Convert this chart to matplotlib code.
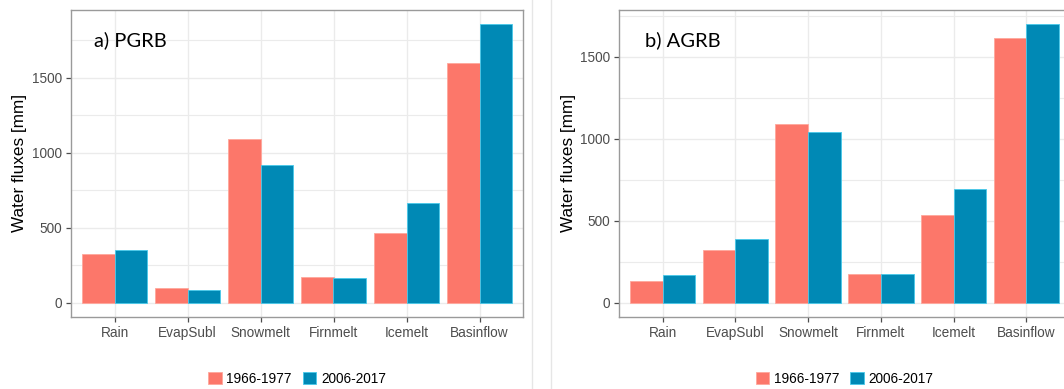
import matplotlib
matplotlib.use("Agg")
import matplotlib.pyplot as plt
import numpy as np
from matplotlib.patches import Patch
from matplotlib.lines import Line2D

categories = ["Rain", "EvapSubl", "Snowmelt", "Firnmelt", "Icemelt", "Basinflow"]
periods = ["1966-1977", "2006-2017"]

pgrb_1966 = [327, 97, 1093, 171, 467, 1600]
pgrb_2006 = [355, 87, 917, 164, 667, 1860]

agrb_1966 = [131, 324, 1090, 178, 533, 1611]
agrb_2006 = [172, 389, 1040, 176, 695, 1699]

panel_titles = ["a) PGRB", "b) AGRB"]
yticks = [0, 500, 1000, 1500]
yminor = [250, 750, 1250, 1750]

RED = "#FC776A"
BLUE = "#0089B5"
RED_EDGE = "#FFA79C"
BLUE_EDGE = "#47C9EA"
TICK_COL = "#4D4D4D"
GRID_COL = "#EBEBEB"
BORDER_COL = "#9A9A9A"

W, H = 1064, 389
plt.rcParams["font.family"] = ["Liberation Sans", "DejaVu Sans"]
fig = plt.figure(figsize=(W / 100, H / 100), dpi=100)

def fx(px):
    return px / W

def fy(py):
    return 1 - py / H

top, bottom = 10, 316.7
axes_px = [(70.7, 523.3), (619.0, 1070.0)]
title_px = [94, 645]

data = [(pgrb_1966, pgrb_2006), (agrb_1966, agrb_2006)]

for i, ((x0, x1), (s1, s2)) in enumerate(zip(axes_px, data)):
    ax = fig.add_axes([fx(x0), fy(bottom), fx(x1 - x0), (bottom - top) / H])
    x = np.arange(1, len(categories) + 1)
    w = 0.45
    ax.bar(x - w / 2, s1, width=w, color=RED, edgecolor=RED_EDGE, linewidth=0.6, zorder=3)
    ax.bar(x + w / 2, s2, width=w, color=BLUE, edgecolor=BLUE_EDGE, linewidth=0.6, zorder=3)
    ymax = max(max(s1), max(s2))
    ax.set_xlim(0.4, 6.6)
    ax.set_ylim(-0.05 * ymax, 1.05 * ymax)
    ax.set_xticks(x)
    ax.set_xticklabels(categories)
    ax.set_yticks(yticks)
    ax.set_yticks(yminor, minor=True)
    ax.tick_params(axis="both", which="major", colors=TICK_COL, labelsize=9.8,
                   length=3.5, width=0.9, direction="out", pad=3)
    ax.tick_params(axis="y", which="minor", length=0)
    for lab in ax.get_xticklabels() + ax.get_yticklabels():
        lab.set_color(TICK_COL)
    ax.grid(True, which="major", color=GRID_COL, linewidth=1.0, zorder=0)
    ax.grid(True, which="minor", axis="y", color=GRID_COL, linewidth=0.8, zorder=0)
    ax.set_axisbelow(True)
    for sp in ax.spines.values():
        sp.set_color(BORDER_COL)
        sp.set_linewidth(1.0)
    ax.set_ylabel("Water fluxes [mm]", fontsize=12.3, color="black", labelpad=3)
    fig.text(fx(title_px[i]), fy(40), panel_titles[i], fontsize=14.5,
             family=["Lato", "DejaVu Sans"], va="center", ha="left", color="black")
    handles = [Patch(facecolor=RED, edgecolor=RED_EDGE, linewidth=0.6),
               Patch(facecolor=BLUE, edgecolor=BLUE_EDGE, linewidth=0.6)]
    cx = (x0 + min(x1, W + 6)) / 2
    fig.legend(handles, periods, loc="center", bbox_to_anchor=(fx(cx), fy(378.7)),
               ncol=2, frameon=False, fontsize=9.8, handlelength=1.0, handleheight=1.0,
               handletextpad=0.35, columnspacing=0.8, borderaxespad=0, borderpad=0)

for lx in [531.7, 550.7]:
    fig.add_artist(Line2D([fx(lx), fx(lx)], [0, 1], color="#E6E6E6", linewidth=1.0,
                          transform=fig.transFigure))

fig.savefig("out.png", dpi=100)
